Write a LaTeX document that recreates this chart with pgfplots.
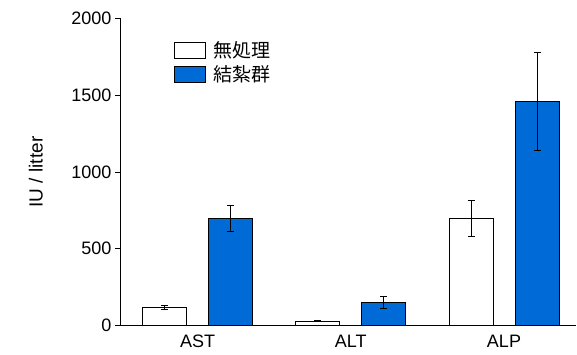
\documentclass[border=0pt]{standalone}
\usepackage{pgfplots}
\pgfplotsset{compat=1.18}
\usepackage{fontspec}
\setmainfont{Liberation Sans}
\newfontfamily\cjk{Noto Sans CJK JP}
\definecolor{barblue}{RGB}{0,107,214}
\begin{document}
\begin{tikzpicture}
\begin{axis}[
 scale only axis, width=455pt, height=307pt,
 xmin=-0.5, xmax=2.47, ymin=0, ymax=2000,
 axis x line=bottom, axis y line=left,
 axis line style={-, line width=1pt, black},
 xtick={0,1,2}, xticklabels={AST,ALT,ALP},
 ytick={0,500,1000,1500,2000},
 x tick style={draw=none},
 y tick style={line width=0.8pt, black},
 tick align=outside, major tick length=6pt,
 /pgf/number format/assume math mode=true,
 /pgf/number format/1000 sep={},
 tick label style={font=\fontsize{18}{18}\selectfont},
 every axis y label/.style={at={(axis description cs:-0.187,0.5)}, rotate=90, anchor=center, font=\fontsize{19}{19}\selectfont},
 ylabel={IU / litter},
 ybar, bar width=44pt,
 legend style={draw=none, fill=none, inner sep=0pt, at={(rel axis cs:0.1165,0.933)}, anchor=north west, font=\cjk\fontsize{19}{19}\selectfont, row sep=3pt},
 legend cell align=left,
 legend image code/.code={\draw[#1] (0pt,-8pt) rectangle (31pt,8pt); \path[draw=none, fill=none] (0pt,0pt) rectangle (37pt,0.1pt);},
]
\addplot[bar shift=-33pt, fill=white, draw=black, line width=0.8pt,
  error bars/.cd, y dir=both, y explicit,
  error bar style={black, line width=0.8pt},
  error mark options={rotate=90, mark size=3.5pt, black, line width=0.8pt}]
  coordinates {(0,118) +- (0,10) (1,29) +- (0,5) (2,698) +- (0,118)};
\addplot[bar shift=33pt, fill=barblue, draw=black, line width=0.8pt,
  error bars/.cd, y dir=both, y explicit,
  error bar style={black, line width=0.8pt},
  error mark options={rotate=90, mark size=3.5pt, black, line width=0.8pt}]
  coordinates {(0,698) +- (0,82) (1,151) +- (0,38) (2,1460) +- (0,320)};
\legend{無処理,結紮群}
\end{axis}
\path (-121pt,-28.5pt) rectangle (456pt,325.5pt);
\end{tikzpicture}
\end{document}
